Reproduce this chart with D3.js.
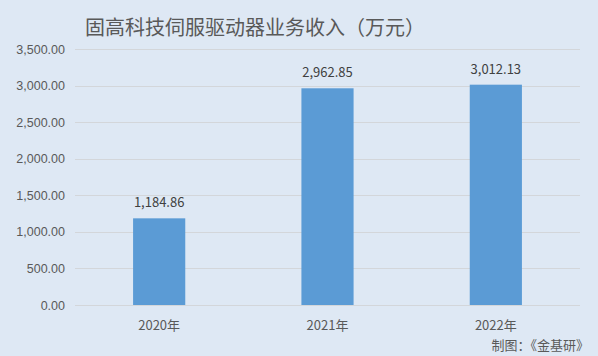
<!DOCTYPE html>
<html>
<head>
<meta charset="utf-8">
<script src="https://cdn.jsdelivr.net/npm/d3@7"></script>
<style>
  body { margin: 0; background: #dee8f4; }
  svg { display: block; font-family: "Noto Sans CJK SC", "Noto Sans", sans-serif; }
</style>
</head>
<body>
<div id="chart"></div>
<script>
const years = ['2020年', '2021年', '2022年'];
const revenue = [1184.86, 2962.85, 3012.13];
const yTicks = [0, 500, 1000, 1500, 2000, 2500, 3000, 3500];

const width = 598, height = 356;
const margin = { top: 49, right: 18, bottom: 51, left: 75 };

const svg = d3.select('#chart').append('svg')
    .attr('width', width)
    .attr('height', height);

svg.append('rect')
    .attr('width', width)
    .attr('height', height)
    .attr('fill', '#dee8f4');

const x = d3.scaleBand()
    .domain(years)
    .range([margin.left, width - margin.right])
    .paddingInner(0.69)
    .paddingOuter(0.345);

const y = d3.scaleLinear()
    .domain([0, 3500])
    .range([height - margin.bottom, margin.top]);

const fmt = d3.format(',.2f');

// gridlines
svg.append('g')
    .selectAll('line')
    .data(yTicks)
    .join('line')
    .attr('x1', margin.left)
    .attr('x2', width - margin.right)
    .attr('y1', d => Math.round(y(d)) + 0.5)
    .attr('y2', d => Math.round(y(d)) + 0.5)
    .attr('stroke', '#d3d6da')
    .attr('stroke-width', 1);

// y axis labels
const yAxis = svg.append('g')
    .attr('transform', `translate(${margin.left - 10},0)`)
    .call(d3.axisLeft(y).tickValues(yTicks).tickFormat(fmt).tickSize(0).tickPadding(0));
yAxis.select('.domain').remove();
yAxis.selectAll('text')
    .attr('fill', '#595959')
    .style('font-size', '12.5px');

// bars
svg.append('g')
    .selectAll('rect')
    .data(revenue)
    .join('rect')
    .attr('x', (d, i) => x(years[i]))
    .attr('y', d => y(d))
    .attr('width', x.bandwidth())
    .attr('height', d => y(0) - y(d))
    .attr('fill', '#5b9bd5');

// value labels
svg.append('g')
    .selectAll('text')
    .data(revenue)
    .join('text')
    .attr('x', (d, i) => x(years[i]) + x.bandwidth() / 2)
    .attr('y', d => y(d) - 11)
    .attr('text-anchor', 'middle')
    .attr('fill', '#404040')
    .style('font-size', '13px')
    .text(d => fmt(d));

// x axis labels
svg.append('g')
    .selectAll('text')
    .data(years)
    .join('text')
    .attr('x', d => x(d) + x.bandwidth() / 2)
    .attr('y', height - margin.bottom + 25)
    .attr('text-anchor', 'middle')
    .attr('fill', '#595959')
    .style('font-size', '13px')
    .text(d => d);

// title
svg.append('text')
    .attr('x', 255)
    .attr('y', 35)
    .attr('text-anchor', 'middle')
    .attr('fill', '#595959')
    .style('font-size', '20px')
    .text('固高科技伺服驱动器业务收入（万元）');

// source
svg.append('text')
    .attr('x', 589)
    .attr('y', 350)
    .attr('text-anchor', 'end')
    .attr('fill', '#595959')
    .style('font-size', '13px')
    .text('制图：《金基研》');
</script>
</body>
</html>
